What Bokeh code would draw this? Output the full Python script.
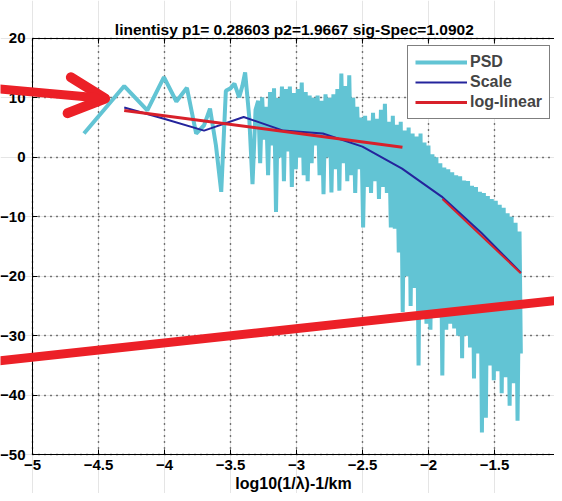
from bokeh.plotting import figure
from bokeh.models import (FixedTicker, LinearAxis, Range1d, Arrow, OpenHead, Legend,
                          LegendItem, Label, Grid)
from bokeh.embed import file_html
from bokeh.resources import INLINE

FONT = "Liberation Sans"

title_text = "linentisy p1= 0.28603 p2=1.9667  sig-Spec=1.0902"
x_label = "log10(1/\u03bb)-1/km"
x_ticks = [-5, -4.5, -4, -3.5, -3, -2.5, -2, -1.5, -1]
y_ticks = [20, 10, 0, -10, -20, -30, -40, -50]

# PSD (low-frequency part + dense part)
psd_x = [-4.61, -4.305, -4.13, -4.004, -3.91, -3.83, -3.76, -3.70, -3.655, -3.61,
         -3.57, -3.535, -3.50, -3.47, -3.434, -3.41, -3.389, -3.358, -3.333, -3.31,
         -3.29, -3.275, -3.26, -3.245, -3.23, -3.215, -3.20, -3.185, -3.17, -3.155,
         -3.14, -3.125, -3.11, -3.095, -3.08, -3.065, -3.05, -3.035, -3.02, -3.005,
         -2.99, -2.975, -2.96, -2.945, -2.93, -2.915, -2.90, -2.885, -2.87, -2.855,
         -2.84, -2.825, -2.81, -2.795, -2.78, -2.765, -2.75, -2.735, -2.72, -2.705,
         -2.69, -2.675, -2.66, -2.645, -2.63, -2.615, -2.60, -2.585, -2.57, -2.555,
         -2.54, -2.525, -2.51, -2.495, -2.48, -2.465, -2.45, -2.435, -2.42, -2.405,
         -2.39, -2.375, -2.36, -2.345, -2.33, -2.315, -2.30, -2.285, -2.27, -2.255,
         -2.24, -2.225, -2.21, -2.195, -2.18, -2.165, -2.15, -2.135, -2.12, -2.105,
         -2.09, -2.075, -2.06, -2.045, -2.03, -2.015, -2.00, -1.985, -1.97, -1.955,
         -1.94, -1.925, -1.91, -1.895, -1.88, -1.865, -1.85, -1.835, -1.82, -1.805,
         -1.79, -1.775, -1.76, -1.745, -1.73, -1.715, -1.70, -1.685, -1.67, -1.655,
         -1.64, -1.625, -1.61, -1.595, -1.58, -1.565, -1.55, -1.535, -1.52, -1.505,
         -1.49, -1.475, -1.46, -1.445, -1.43, -1.415, -1.40, -1.385, -1.37, -1.355,
         -1.34, -1.325, -1.31, -1.30]
psd_y = [4.0, 12.0, 7.9, 13.5, 9.4, 11.7, 4.0, 5.4, 8.2, 2.0,
         -5.8, 11.2, 11.6, 12.4, 10.1, 12.0, 14.3, 6.8, -4.5, 8.0,
         9.5, -1.0, 10.1, 3.0, 8.5, -3.0, 11.0, 2.0, 11.6, -9.2,
         10.0, 0.0, 11.9, -4.0, 11.5, 1.0, 11.9, -5.0, 10.8, -2.0,
         11.5, 0.0, 12.6, -3.0, 11.0, -4.0, 10.4, -1.0, 10.0, 2.0,
         10.4, -3.0, 9.5, -6.2, 10.6, 0.0, 10.0, -5.9, 10.6, -2.0,
         11.5, -5.6, 14.1, -1.0, 12.0, -4.0, 13.8, -3.0, 10.0, -6.0,
         8.5, -2.0, 6.7, -11.8, 7.0, -5.0, 6.2, -6.0, 7.5, -4.0,
         6.5, -7.0, 8.0, -5.0, 9.0, -6.0, 6.0, -11.8, 7.0, -12.0,
         5.5, -16.0, 6.0, -26.0, 4.5, -20.0, 5.0, -25.0, 4.0, -22.0,
         3.5, -35.0, 4.0, -27.0, 2.5, -28.0, 2.0, -29.0, 0.5, -26.0,
         0.0, -27.0, -1.0, -36.7, -1.7, -29.0, -2.0, -28.0, -2.5, -28.8,
         -3.0, -30.0, -3.2, -33.8, -3.9, -30.0, -4.0, -32.0, -4.8, -37.2,
         -5.0, -33.0, -5.8, -46.3, -6.0, -43.8, -6.5, -35.0, -7.0, -37.5,
         -7.3, -36.0, -8.0, -39.7, -8.5, -37.0, -9.4, -41.8, -10.0, -38.0,
         -11.0, -44.3, -12.5, -33.0]

scale_x = [-4.305, -4.004, -3.70, -3.40, -3.10, -2.80, -2.50, -2.20, -1.90, -1.60, -1.30]
scale_y = [8.4, 6.5, 4.5, 6.8, 4.5, 4.0, 1.8, -1.9, -6.6, -12.7, -19.4]

fit1_x = [-4.305, -2.197]
fit1_y = [7.9, 1.7]
fit2_x = [-1.894, -1.30]
fit2_y = [-7.0, -19.5]

# red annotation arrows (data coords)
arrow_a = [-5.30, 11.6, -4.45, 9.9]
arrow_b = [-5.30, -34.35, -1.0, -24.0]

# axes box and the visible canvas (data units)
x_box = (-5, -1.045)
y_box = (-50, 20)
x_view = (-5.2424, -1.045)
y_view = (-56.56, 26.39)

CYAN = "#62c4d4"
BLUE = "#24249c"
RED = "#d8202a"
ARED = "#ec2027"

p = figure(width=554, height=493, output_backend="svg", toolbar_location=None,
           x_range=Range1d(*x_view), y_range=Range1d(*y_view),
           x_axis_location=None, y_axis_location=None,
           min_border=0)
p.outline_line_color = None
p.background_fill_color = "white"
p.border_fill_color = "white"

xax = LinearAxis(fixed_location=y_box[0], bounds=x_box)
yax = LinearAxis(fixed_location=x_box[0], bounds=y_box)
top = LinearAxis(fixed_location=y_box[1], bounds=x_box, ticker=FixedTicker(ticks=[]),
                 major_tick_in=0, major_tick_out=0, minor_tick_line_color=None,
                 axis_line_color="black")
p.add_layout(xax, "below")
p.add_layout(yax, "left")
p.add_layout(top, "above")

for ax in (xax, yax):
    ax.major_tick_in = 5
    ax.major_tick_out = 0
    ax.minor_tick_line_color = None
    ax.axis_line_color = "black"
    ax.axis_line_width = 1
    ax.major_tick_line_color = "black"
    ax.major_label_text_font = FONT
    ax.major_label_text_font_size = "15px"
    ax.major_label_text_font_style = "bold"
    ax.major_label_text_color = "black"
xax.ticker = FixedTicker(ticks=x_ticks)
yax.ticker = FixedTicker(ticks=y_ticks)
xax.major_label_standoff = 5
yax.major_label_standoff = 7
xax.axis_label = x_label
xax.axis_label_text_font = FONT
xax.axis_label_text_font_size = "16px"
xax.axis_label_text_font_style = "bold"
xax.axis_label_text_color = "black"
xax.axis_label_standoff = 2

xg = Grid(dimension=0, ticker=FixedTicker(ticks=x_ticks))
yg = Grid(dimension=1, ticker=FixedTicker(ticks=y_ticks))
for g in (xg, yg):
    g.grid_line_color = "black"
    g.grid_line_dash = "1 5"
    g.grid_line_width = 1.4
    p.add_layout(g, "center")
xg.cross_bounds = y_box
yg.cross_bounds = x_box

# inward tick marks along the top border
top_ticks = [t for t in x_ticks if x_box[0] <= t <= x_box[1]]
p.segment(x0=top_ticks, y0=[y_box[1]] * len(top_ticks),
          x1=top_ticks, y1=[y_box[1] - 0.85] * len(top_ticks),
          line_color="black", line_width=1)

title = Label(x=-3.0, y=21.5, text=title_text, text_align="center",
              text_baseline="alphabetic", text_font=FONT, text_font_size="15.5px",
              text_font_style="bold", text_color="black")
p.add_layout(title)

r_psd = p.line(psd_x, psd_y, line_color=CYAN, line_width=4)
r_scale = p.line(scale_x, scale_y, line_color=BLUE, line_width=2)
r_fit1 = p.line(fit1_x, fit1_y, line_color=RED, line_width=3)
r_fit2 = p.line(fit2_x, fit2_y, line_color=RED, line_width=2)

legend = Legend(items=[LegendItem(label="PSD", renderers=[r_psd]),
                       LegendItem(label="Scale", renderers=[r_scale]),
                       LegendItem(label="log-linear", renderers=[r_fit1])],
                location=(407, 374), margin=0, padding=7, spacing=2,
                glyph_width=52, glyph_height=18, label_height=18, label_standoff=3,
                border_line_color="black", border_line_width=1,
                background_fill_color="white", background_fill_alpha=1,
                label_text_font=FONT, label_text_font_size="16px",
                label_text_font_style="bold")
p.add_layout(legend, "center")

p.add_layout(Arrow(x_start=arrow_a[0], y_start=arrow_a[1], x_end=arrow_a[2], y_end=arrow_a[3],
                   line_color=ARED, line_width=9, line_cap="round",
                   end=OpenHead(size=36, line_color=ARED, line_width=10, line_cap="round", line_join="round")))
p.add_layout(Arrow(x_start=arrow_b[0], y_start=arrow_b[1], x_end=arrow_b[2], y_end=arrow_b[3],
                   line_color=ARED, line_width=9, end=None))

open("out.html", "w").write(file_html(p, INLINE))
